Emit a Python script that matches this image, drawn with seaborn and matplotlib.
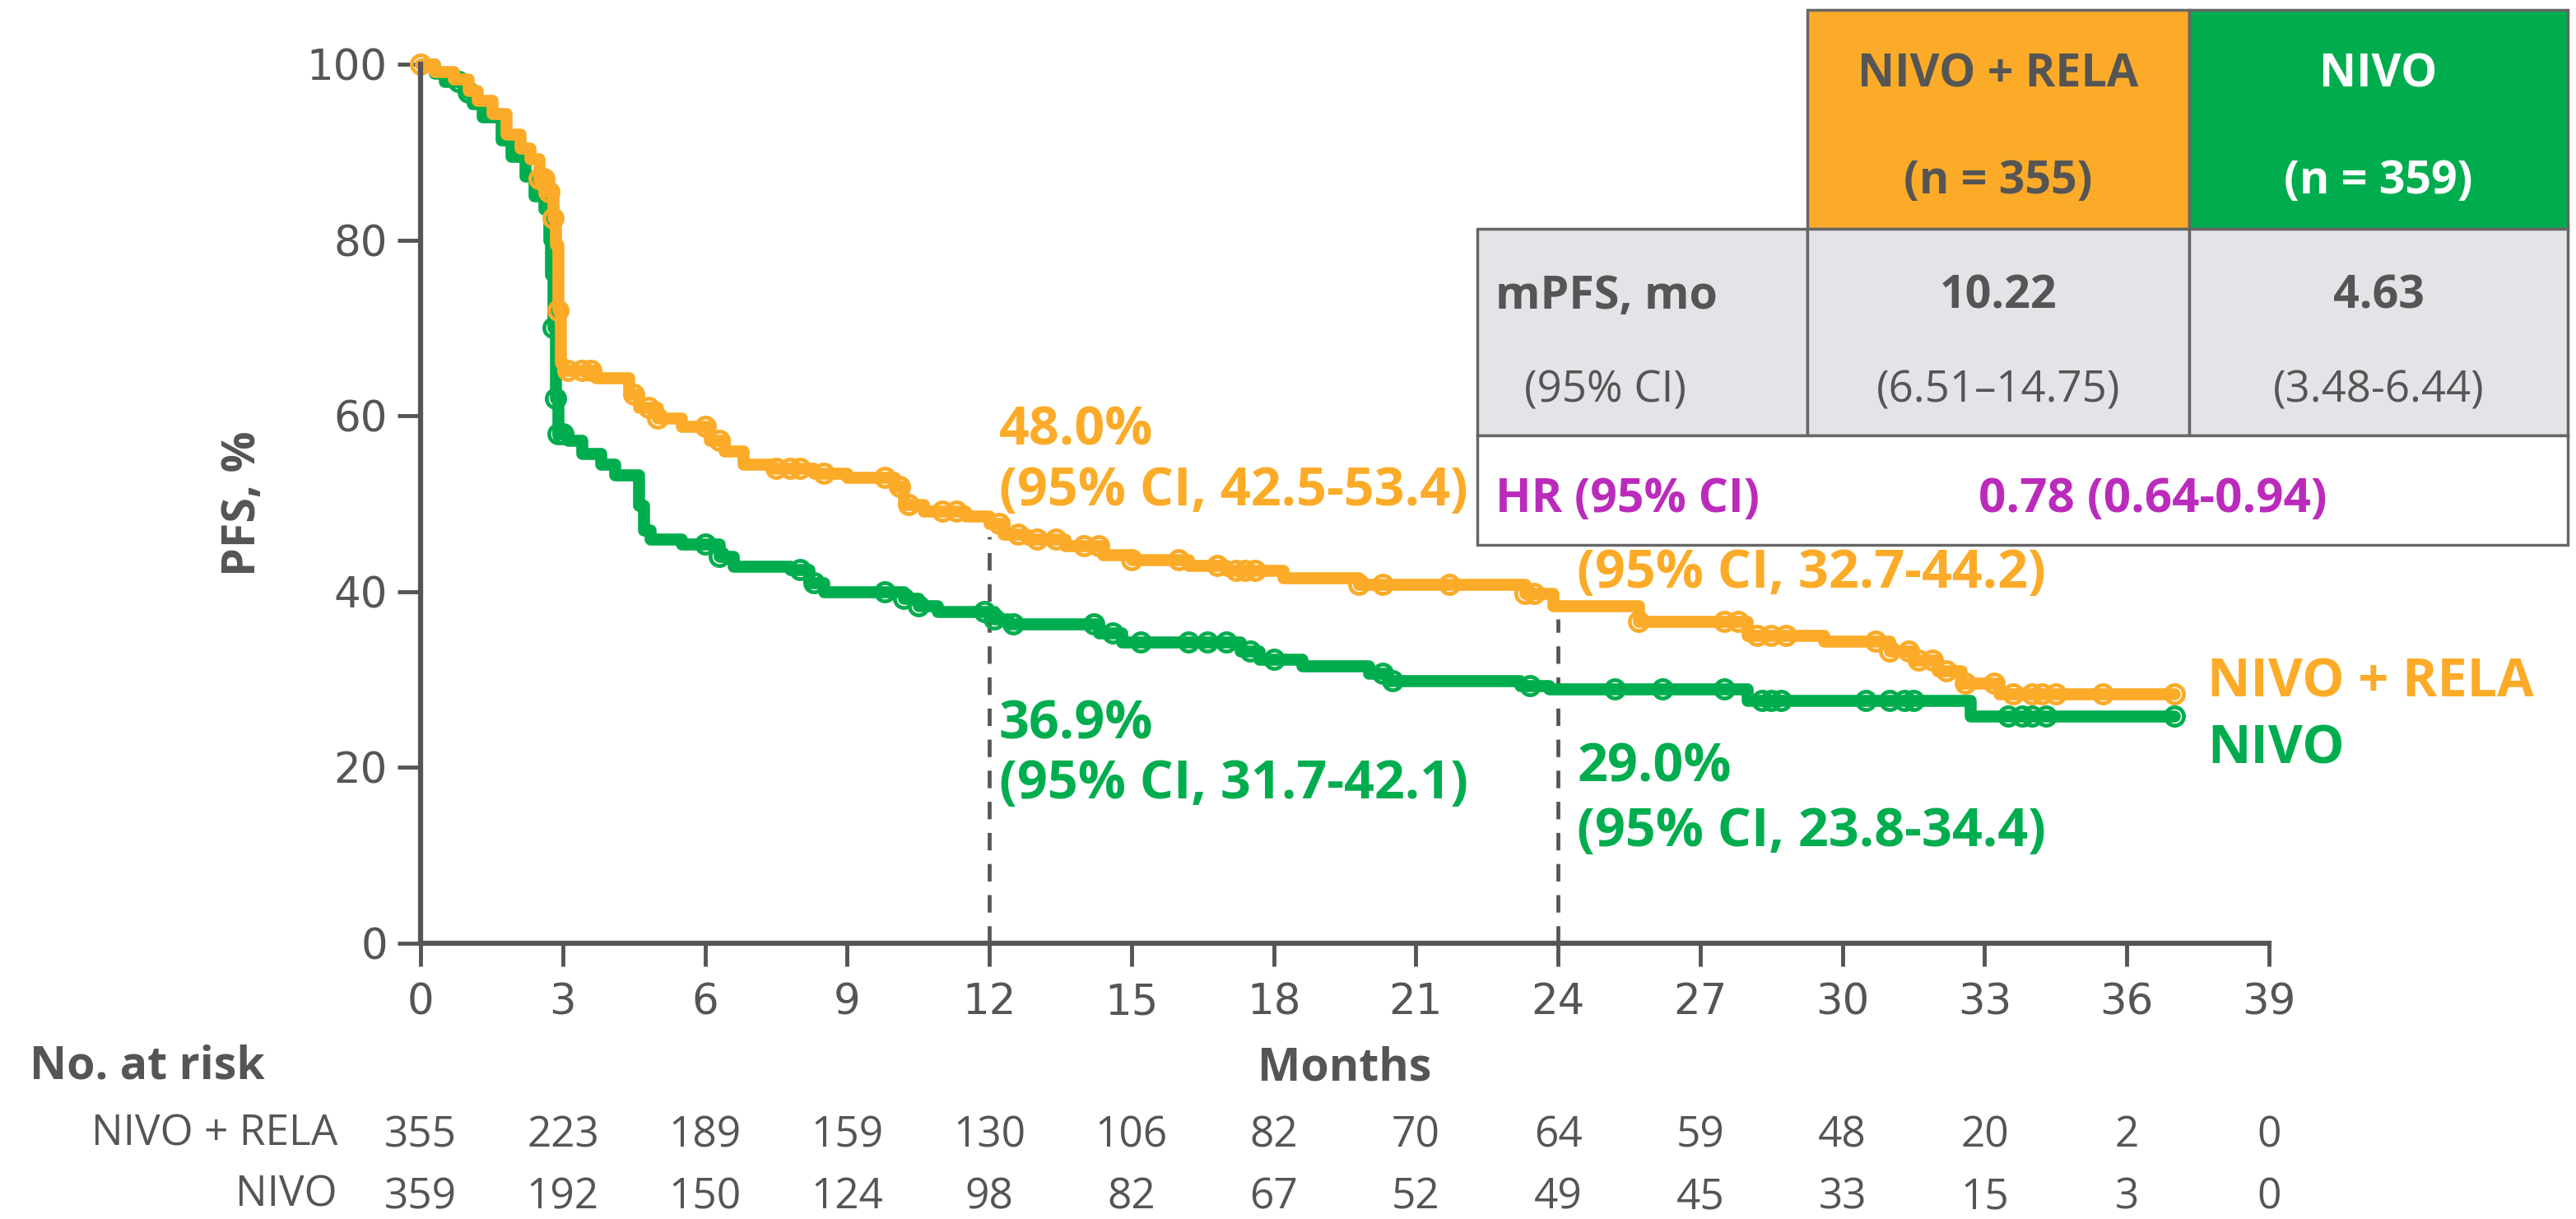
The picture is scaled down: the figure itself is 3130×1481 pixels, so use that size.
import numpy as np
import seaborn as sns
import matplotlib.pyplot as plt
from matplotlib.patches import Rectangle

sns.set_style("ticks")
plt.rcParams['font.family'] = ['Open Sans', 'DejaVu Sans']

# Kaplan-Meier steps (months, PFS %)
rela_t = [0, 0.3, 0.7, 1.0, 1.2, 1.5, 1.8, 2.1, 2.3, 2.5, 2.65, 2.8, 2.85, 2.9, 2.95, 3.0,
          3.7, 4.4, 4.6, 5.0, 5.5, 6.1, 6.4, 6.8, 7.4, 8.3, 9.0, 10.0, 10.2, 10.6, 11.5,
          12.0, 12.3, 12.8, 13.6, 14.4, 15.0, 16.2, 17.0, 18.2, 19.8, 23.3, 23.9, 25.7,
          28.0, 29.6, 31.0, 31.5, 32.0, 32.5, 33.3, 37.0]
rela_s = [100, 99.2, 98.3, 97.0, 95.9, 94.4, 92.0, 90.5, 89.2, 87.0, 85.5, 82.5, 79.5, 72.0,
          66.0, 65.2, 64.3, 62.5, 61.0, 59.7, 58.8, 57.2, 56.0, 54.5, 54.0, 53.5, 53.0, 52.0,
          49.9, 49.2, 48.6, 47.8, 46.5, 46.0, 45.2, 44.2, 43.6, 43.0, 42.4, 41.6, 40.8, 39.8,
          38.4, 36.6, 35.0, 34.4, 33.2, 32.2, 31.0, 29.6, 28.4, 28.4]
nivo_t = [0, 0.3, 0.5, 0.9, 1.1, 1.3, 1.7, 1.9, 2.2, 2.4, 2.6, 2.7, 2.75, 2.8, 2.85, 2.9,
          3.1, 3.4, 3.8, 4.1, 4.6, 4.7, 4.85, 5.5, 6.3, 6.6, 7.8, 8.2, 8.5, 10.2, 10.5, 10.9,
          12.1, 12.4, 14.3, 14.8, 17.3, 17.7, 18.6, 20.0, 20.4, 23.2, 23.8, 28.0, 32.7, 37.0]
nivo_s = [100, 99.0, 98.0, 96.8, 95.5, 94.0, 91.4, 89.5, 87.3, 85.0, 83.5, 80.0, 76.0, 70.0,
          62.0, 58.0, 57.2, 55.7, 54.5, 53.3, 49.8, 47.0, 46.0, 45.4, 44.0, 42.9, 42.5, 41.0,
          40.0, 39.2, 38.4, 37.7, 36.9, 36.3, 35.3, 34.3, 33.2, 32.3, 31.6, 30.7, 29.9, 29.3,
          28.9, 27.6, 25.8, 25.8]

rela_cens = [0, 2.5, 2.6, 2.7, 2.8, 2.9, 3.1, 3.4, 3.6, 4.5, 4.8, 5.0, 6.0, 6.3, 7.5, 7.8,
             8.0, 8.5, 9.8, 10.1, 10.3, 11.0, 11.3, 12.2, 12.6, 13.0, 13.4, 14.0, 14.3, 15.0,
             16.0, 16.8, 17.2, 17.4, 17.6, 19.8, 20.3, 21.7, 23.3, 23.5, 25.7, 27.5, 27.8,
             28.2, 28.5, 28.8, 30.7, 31.0, 31.4, 31.6, 31.9, 32.2, 32.6, 33.2, 33.6, 34.0,
             34.2, 34.5, 35.5, 37.0]
nivo_cens = [0.8, 1.0, 2.8, 2.85, 2.9, 3.0, 6.0, 6.3, 8.0, 8.3, 9.8, 10.2, 10.5, 11.9, 12.1,
             12.5, 14.2, 14.6, 15.2, 16.2, 16.6, 17.0, 17.5, 18.0, 20.3, 20.5, 23.4, 25.2,
             26.2, 27.5, 28.3, 28.5, 28.7, 30.5, 31.0, 31.3, 31.5, 33.5, 33.8, 34.0, 34.3, 37.0]

month_ticks = list(range(0, 40, 3))
risk_rela = [355, 223, 189, 159, 130, 106, 82, 70, 64, 59, 48, 20, 2, 0]
risk_nivo = [359, 192, 150, 124, 98, 82, 67, 52, 49, 45, 33, 15, 3, 0]
landmarks = [12, 24]

ORANGE = '#FCAB28'
GREEN = '#00AD4E'
PURPLE = '#BB2BBB'
GREY = '#555555'


def step_value(t, s, x):
    i = np.searchsorted(t, x, side='right') - 1
    return np.asarray(s)[i]


fig = plt.figure(figsize=(31.3, 14.81), dpi=100)
ax = fig.add_axes([0.1633, 0.2262, 0.7175, 0.7211])

for t, s, cens, c in [(nivo_t, nivo_s, nivo_cens, GREEN), (rela_t, rela_s, rela_cens, ORANGE)]:
    sns.lineplot(x=t, y=s, ax=ax, color=c, drawstyle='steps-post',
                 estimator=None, sort=False)
    ln = ax.lines[-1]
    ln.set_linewidth(10.5)
    ln.set_clip_on(False)
    ax.plot(cens, step_value(t, s, cens), ls='none', marker='o', ms=16, mfc='none',
            mec=c, mew=3.4, clip_on=False)

# dashed landmark lines up to the NIVO + RELA curve
for m in landmarks:
    ax.plot([m, m], [0, step_value(rela_t, rela_s, m) - 1.5], color=GREY, lw=3.4,
            ls=(0, (4.5, 3.5)), zorder=1)

ax.set_xlim(0, 39)
ax.set_ylim(0, 100)
ax.set_xticks(month_ticks)
ax.set_yticks(range(0, 101, 20))
for sp in ['top', 'right']:
    ax.spines[sp].set_visible(False)
for sp in ['left', 'bottom']:
    ax.spines[sp].set_linewidth(4.5)
    ax.spines[sp].set_color(GREY)
ax.tick_params(axis='both', length=20, width=3.5, color=GREY, labelcolor=GREY,
               labelsize=37)
ax.tick_params(axis='x', pad=14)
ax.tick_params(axis='y', pad=9)
for lab in ax.get_xticklabels() + ax.get_yticklabels():
    lab.set_family('DejaVu Sans')
ax.set_xlabel('')
ax.set_ylabel('PFS, %', fontsize=40, fontweight='bold', color=GREY, labelpad=36)

# landmark annotations
bold = dict(fontsize=46.5, fontweight='bold', va='center', ha='left', clip_on=False)
ax.text(12.2, 58.2, '48.0%', color=ORANGE, **bold)
ax.text(12.2, 51.4, '(95% CI, 42.5-53.4)', color=ORANGE, **bold)
ax.text(12.2, 24.8, '36.9%', color=GREEN, **bold)
ax.text(12.2, 18.0, '(95% CI, 31.7-42.1)', color=GREEN, **bold)
ax.text(24.4, 42.0, '(95% CI, 32.7-44.2)', color=ORANGE, **bold)
ax.text(24.4, 19.9, '29.0%', color=GREEN, **bold)
ax.text(24.4, 12.6, '(95% CI, 23.8-34.4)', color=GREEN, **bold)
ax.text(37.7, 29.6, 'NIVO + RELA', color=ORANGE, **bold)
ax.text(37.7, 22.0, 'NIVO', color=GREEN, **bold)

# number at risk table
trans = ax.get_xaxis_transform()
ax.text(19.5, -0.142, 'Months', transform=trans, ha='center', va='center',
        fontsize=40, fontweight='bold', color=GREY)
fig.text(36 / 3130, 1 - 1296 / 1481, 'No. at risk', ha='left', va='center',
         fontsize=40, fontweight='bold', color=GREY)
fig.text(410 / 3130, 1 - 1378 / 1481, 'NIVO + RELA', ha='right', va='center',
         fontsize=37, color=GREY)
fig.text(410 / 3130, 1 - 1452 / 1481, 'NIVO', ha='right', va='center',
         fontsize=37, color=GREY)
for m, a, b in zip(month_ticks, risk_rela, risk_nivo):
    ax.text(m, -0.219, str(a), transform=trans, ha='center', va='center', fontsize=37,
            color=GREY, clip_on=False)
    ax.text(m, -0.289, str(b), transform=trans, ha='center', va='center', fontsize=37,
            color=GREY, clip_on=False)

# summary table (pixel coordinates of the full image)
tab = fig.add_axes([0, 0, 1, 1], zorder=5)
tab.set_xlim(0, 3130)
tab.set_ylim(1481, 0)
tab.axis('off')
tab.patch.set_alpha(0)
L, C1, C2, R = 1795, 2196, 2660, 3120
T, H1, H2, B = 12, 278, 529, 662
edge = dict(ec='#666666', lw=2.5)
tab.add_patch(Rectangle((C1, T), C2 - C1, H1 - T, fc=ORANGE, **edge))
tab.add_patch(Rectangle((C2, T), R - C2, H1 - T, fc=GREEN, **edge))
for x0, x1 in [(L, C1), (C1, C2), (C2, R)]:
    tab.add_patch(Rectangle((x0, H1), x1 - x0, H2 - H1, fc='#E3E4E8', **edge))
tab.add_patch(Rectangle((L, H2), R - L, B - H2, fc='white', **edge))

cell = dict(fontsize=40, ha='center', va='center', fontweight='bold')
tab.text((C1 + C2) / 2, 91, 'NIVO + RELA', color=GREY, **cell)
tab.text((C1 + C2) / 2, 221, '(n = 355)', color=GREY, **cell)
tab.text((C2 + R) / 2, 91, 'NIVO', color='white', **cell)
tab.text((C2 + R) / 2, 221, '(n = 359)', color='white', **cell)
tab.text(1817, 360, 'mPFS, mo', color=GREY, fontsize=40, fontweight='bold', va='center')
tab.text(1852, 475, '(95% CI)', color=GREY, fontsize=38, va='center')
tab.text((C1 + C2) / 2, 360, '10.22', color=GREY, **cell)
tab.text((C2 + R) / 2, 360, '4.63', color=GREY, **cell)
tab.text((C1 + C2) / 2, 475, '(6.51–14.75)', color=GREY, fontsize=38, ha='center', va='center')
tab.text((C2 + R) / 2, 475, '(3.48-6.44)', color=GREY, fontsize=38, ha='center', va='center')
tab.text(1817, 607, 'HR (95% CI)', color=PURPLE, fontsize=41, fontweight='bold', va='center')
tab.text(2616, 607, '0.78 (0.64-0.94)', color=PURPLE, fontsize=42, fontweight='bold',
         ha='center', va='center')

fig.savefig('out.png', dpi=100, facecolor='white')
